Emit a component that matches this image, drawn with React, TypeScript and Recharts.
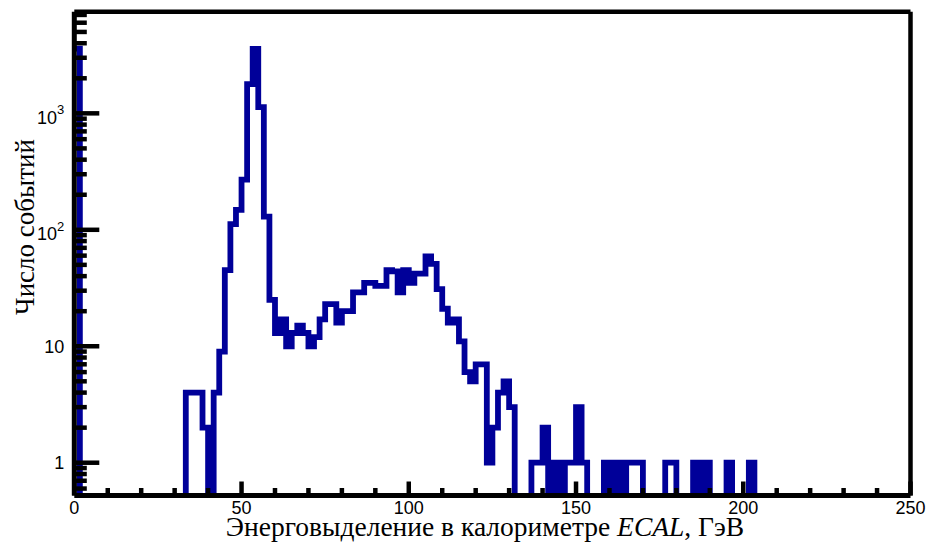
import React from "react";
import { ComposedChart, Line, XAxis, YAxis } from "recharts";

// bin width in GeV (150 bins over 0..250)
const binWidth = 5 / 3;

// event counts per bin
const countsLow = [
  3600, 0, 0, 0, 0, 0, 0, 0, 0, 0,
  0, 0, 0, 0, 0, 0, 0, 0, 0, 0,
  4, 4, 4, 2, 0, 4, 9, 45, 112, 148,
  270, 1780, 3570, 1130, 130, 25, 13, 17, 10, 13,
  15, 13, 10, 12, 17, 23, 23, 16, 20, 20,
];
const countsMid = [
  29, 29, 35, 35, 33, 33, 45, 44, 29, 45,
  35, 42, 42, 59, 51, 31, 21, 16, 17, 11,
  6, 5, 7, 7, 1, 2, 4, 5, 3, 0,
  0, 0, 1, 1, 2, 0, 1, 0, 1, 1,
  3, 1, 0, 0, 0, 1, 0, 1, 0, 1,
];
const countsHigh = [
  1, 1, 0, 0, 0, 0, 1, 1, 0, 0,
  0, 1, 0, 1, 0, 0, 0, 1, 0, 0,
  0, 1, 0, 0, 0, 0, 0, 0, 0, 0,
  0, 0, 0, 0, 0, 0, 0, 0, 0, 0,
  0, 0, 0, 0, 0, 0, 0, 0, 0, 0,
];

const xTicks = [0, 10, 20, 30, 40, 50, 60, 70, 80, 90, 100, 110, 120, 130, 140, 150, 160, 170, 180, 190, 200, 210, 220, 230, 240, 250];
const yMajor = [1, 10, 100, 1000];
const yTicks = [
  0.6, 0.7, 0.8, 0.9, 1, 2, 3, 4, 5, 6, 7, 8, 9, 10, 20, 30, 40, 50, 60, 70, 80, 90,
  100, 200, 300, 400, 500, 600, 700, 800, 900, 1000, 2000, 3000, 4000, 5000, 6000, 7000,
];

const counts = [...countsLow, ...countsMid, ...countsHigh];
// empty bins are pushed below the log axis floor so the step drops out of the frame
const data = counts.map((c, i) => ({ e: i * binWidth, c: c > 0 ? c : 0.01 }));
data.push({ e: 250, c: data[data.length - 1].c });

const BLUE = "#000099";
const sans = "'Liberation Sans', Arial, sans-serif";
const serif = "'Liberation Serif', 'Times New Roman', serif";

const XTick = (props: any) => {
  const { x, y, payload } = props;
  const v = payload.value;
  const major = v % 50 === 0;
  return (
    <g>
      <line x1={x} x2={x} y1={y} y2={y - (major ? 14 : 7.5)} stroke="#000" strokeWidth={4.5} />
      {major && (
        <text x={x} y={y + 18.5} textAnchor="middle" fontFamily={sans} fontSize={18} fill="#000">
          {v}
        </text>
      )}
    </g>
  );
};

const YTick = (props: any) => {
  const { x, y, payload } = props;
  const v = payload.value;
  const major = yMajor.includes(v);
  const exp = Math.round(Math.log10(v));
  return (
    <g>
      <line x1={x} x2={x + (major ? 25 : 12.5)} y1={y} y2={y} stroke="#000" strokeWidth={4.5} />
      {major && exp < 2 && (
        <text x={x - 10} y={y + 6.5} textAnchor="end" fontFamily={sans} fontSize={18} fill="#000">
          {v}
        </text>
      )}
      {major && exp >= 2 && (
        <text x={x - 10} y={y + 10.5} textAnchor="end" fontFamily={sans} fontSize={18} fill="#000">
          10
          <tspan dy={-9.5} fontSize={13}>
            {exp}
          </tspan>
        </text>
      )}
    </g>
  );
};

const XTitle = () => (
  <text x={485} y={536} textAnchor="middle" fontFamily={serif} fontSize={27.5} fill="#000">
    Энерговыделение в калориметре <tspan fontStyle="italic">ECAL</tspan>, ГэВ
  </text>
);

const YTitle = () => (
  <text
    x={25}
    y={227}
    transform="rotate(-90, 25, 227)"
    textAnchor="middle"
    dominantBaseline="central"
    fontFamily={serif}
    fontSize={27}
    fill="#000"
  >
    Число событий
  </text>
);

export default function App() {
  return (
    <div style={{ position: "absolute", left: 0, top: 0, background: "#fff" }}>
      <ComposedChart
        width={927}
        height={544}
        data={data}
        margin={{ top: 10.7, right: 15.5, left: 14.3, bottom: 0 }}
      >
        <Line
          type="stepAfter"
          dataKey="c"
          stroke={BLUE}
          strokeWidth={5.8}
          strokeLinejoin="miter"
          dot={false}
          activeDot={false}
          isAnimationActive={false}
        />
        <XAxis
          dataKey="e"
          type="number"
          domain={[0, 250]}
          ticks={xTicks}
          interval={0}
          allowDataOverflow
          height={48.5}
          tickSize={0}
          tickMargin={0}
          tickLine={false}
          axisLine={{ stroke: "#000", strokeWidth: 5 }}
          tick={<XTick />}
          label={<XTitle />}
        />
        <XAxis
          xAxisId="top"
          orientation="top"
          dataKey="e"
          type="number"
          domain={[0, 250]}
          height={1}
          tick={false}
          tickLine={false}
          axisLine={{ stroke: "#000", strokeWidth: 4.5 }}
        />
        <YAxis
          scale="log"
          domain={[0.523, 7460]}
          ticks={yTicks}
          interval={0}
          allowDataOverflow
          width={60}
          tickSize={0}
          tickMargin={0}
          tickLine={false}
          axisLine={{ stroke: "#000", strokeWidth: 5 }}
          tick={<YTick />}
          label={<YTitle />}
        />
        <YAxis
          yAxisId="right"
          orientation="right"
          scale="log"
          domain={[0.523, 7460]}
          allowDataOverflow
          width={1}
          tick={false}
          tickLine={false}
          axisLine={{ stroke: "#000", strokeWidth: 4.5 }}
        />
      </ComposedChart>
    </div>
  );
}
